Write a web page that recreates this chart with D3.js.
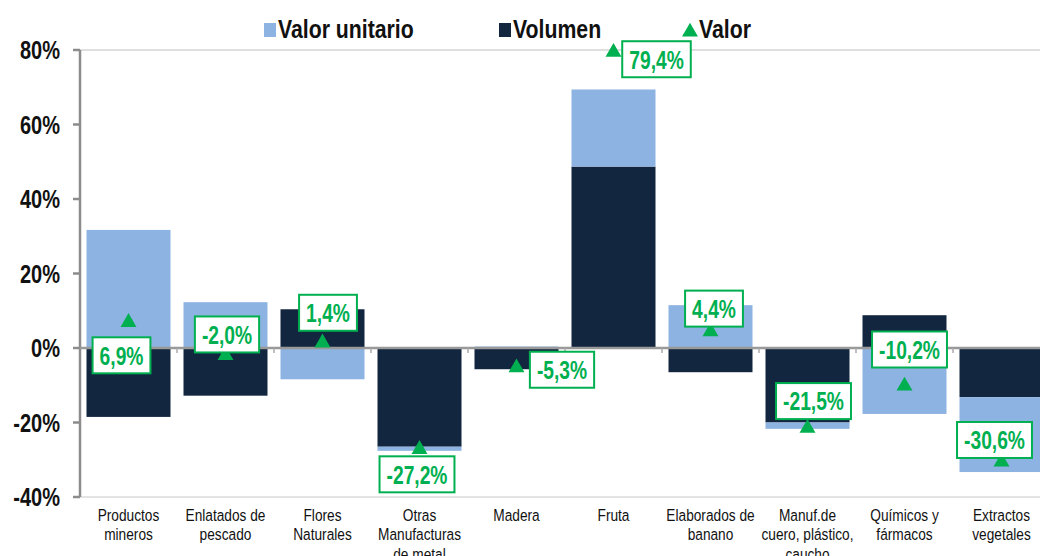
<!DOCTYPE html>
<html>
<head>
<meta charset="utf-8">
<script src="https://cdn.jsdelivr.net/npm/d3@7"></script>
<style>
  body { margin: 0; background: #fff; }
  svg { display: block; }
  text { font-family: "Liberation Sans", Arial, sans-serif; }
</style>
</head>
<body>
<svg id="chart" width="1040" height="556"></svg>
<script>
// categorias (con saltos de linea del eje)
var categorias = [
  "Productos\nmineros", "Enlatados de\npescado", "Flores\nNaturales",
  "Otras\nManufacturas\nde metal", "Madera", "Fruta", "Elaborados de\nbanano",
  "Manuf.de\ncuero, plástico,\ncaucho", "Químicos y\nfármacos", "Extractos\nvegetales"
];
// variaciones en %
var valorUnitario = [31.7, 12.3, -8.4, -1.1, 0.4, 20.7, 11.5, -1.7, -17.7, -20.1];
var volumen       = [-18.5, -12.8, 10.4, -26.5, -5.7, 48.7, -6.5, -20.0, 8.8, -13.2];
var valor         = [6.9, -2.0, 1.4, -27.2, -5.3, 79.4, 4.4, -21.5, -10.2, -30.6];
var valorTexto    = ["6,9%", "-2,0%", "1,4%", "-27,2%", "-5,3%", "79,4%", "4,4%", "-21,5%", "-10,2%", "-30,6%"];
var ticksY = [-40, -20, 0, 20, 40, 60, 80];

// donde va cada etiqueta respecto al triangulo
var etiquetaDx = [-7, 1.5, 5.5, -2.5, 45.5, 43, 3.5, 6, 5, -7];
var etiquetaDy = [33, -21, -30, 25, 2, 7, -23, -27, -36.5, -22];

var colorUnit = "#8DB3E2";
var colorVol = "#13263F";
var verde = "#00B050";

var svg = d3.select("#chart");

//la fuente del original es angosta, se aprieta en x
function angosto(px, py, sx){
    return "translate(" + px + "," + py + ") scale(" + sx + ",1)";
}

var x = d3.scaleBand()
    .domain(categorias)
    .range([80, 1050])
    .paddingInner(0.134)
    .paddingOuter(0.067);

var y = d3.scaleLinear()
    .domain([-40, 80])
    .range([497, 50]);

// tabla para el stack: volumen queda pegado al cero
var tabla = categorias.map(function(c, i){
    return {cat: c, volumen: volumen[i], unitario: valorUnitario[i]};
});
var series = d3.stack()
    .keys(["volumen", "unitario"])
    .offset(d3.stackOffsetDiverging)(tabla);

// lineas de borde del area
svg.append("line")
    .attr("x1", 80).attr("x2", 1040)
    .attr("y1", y(80)).attr("y2", y(80))
    .attr("stroke", "#BFBFBF").attr("stroke-width", 1);
svg.append("line")
    .attr("x1", 80).attr("x2", 1040)
    .attr("y1", y(-40)).attr("y2", y(-40))
    .attr("stroke", "#C8C8C8").attr("stroke-width", 1);

// barras
svg.append("g").selectAll("g")
    .data(series)
    .enter().append("g")
    .attr("fill", function(s){ return s.key == "volumen" ? colorVol : colorUnit; })
    .selectAll("rect")
    .data(function(s){ return s; })
    .enter().append("rect")
    .attr("x", function(d){ return x(d.data.cat); })
    .attr("width", x.bandwidth())
    .attr("y", function(d){ return y(Math.max(d[0], d[1])); })
    .attr("height", function(d){ return Math.abs(y(d[0]) - y(d[1])); });

// eje y
var ejeY = svg.append("g");
ejeY.append("line")
    .attr("x1", 80).attr("x2", 80)
    .attr("y1", y(80)).attr("y2", y(-40))
    .attr("stroke", "#8C8C8C").attr("stroke-width", 2.5);
ejeY.selectAll(".tk")
    .data(ticksY)
    .enter().append("line")
    .attr("x1", 73).attr("x2", 80)
    .attr("y1", function(d){ return y(d); })
    .attr("y2", function(d){ return y(d); })
    .attr("stroke", "#8C8C8C").attr("stroke-width", 2.5);
ejeY.selectAll("text")
    .data(ticksY)
    .enter().append("text")
    .attr("transform", function(d){ return angosto(60, y(d), 0.8); })
    .attr("dy", "0.36em")
    .attr("text-anchor", "end")
    .attr("font-size", 25)
    .attr("font-weight", "bold")
    .attr("fill", "#111")
    .text(function(d){ return d + "%"; });

// linea del cero con marcas
svg.append("line")
    .attr("x1", 80).attr("x2", 1040)
    .attr("y1", y(0)).attr("y2", y(0))
    .attr("stroke", "#999").attr("stroke-width", 2.5);
svg.append("g").selectAll("line")
    .data(categorias.slice(1))
    .enter().append("line")
    .attr("x1", function(d){ return x(d) - x.step() * x.paddingInner() / 2; })
    .attr("x2", function(d){ return x(d) - x.step() * x.paddingInner() / 2; })
    .attr("y1", y(0)).attr("y2", y(0) + 5)
    .attr("stroke", "#AAA").attr("stroke-width", 1.5);

// etiquetas categorias
var cats = svg.append("g").selectAll("text")
    .data(categorias)
    .enter().append("text")
    .attr("text-anchor", "middle")
    .attr("font-size", 16.5)
    .attr("fill", "#111")
    .attr("transform", function(d){ return angosto(x(d) + x.bandwidth() / 2, 521, 0.83); });
cats.selectAll("tspan")
    .data(function(d){ return d.split("\n"); })
    .enter().append("tspan")
    .attr("x", 0)
    .attr("y", function(d, i){ return i * 19.5; })
    .text(function(d){ return d; });

// triangulos del valor
var tri = d3.symbol().type(d3.symbolTriangle).size(110);
svg.append("g").selectAll("path")
    .data(valor)
    .enter().append("path")
    .attr("d", tri)
    .attr("fill", verde)
    .attr("transform", function(d, i){
        return "translate(" + (x(categorias[i]) + x.bandwidth() / 2) + "," + y(d) + ")";
    });

// cajas de etiqueta
var etq = svg.append("g").selectAll("g")
    .data(valor)
    .enter().append("g")
    .attr("transform", function(d, i){
        var cx = x(categorias[i]) + x.bandwidth() / 2 + etiquetaDx[i];
        var cy = y(d) + etiquetaDy[i];
        return "translate(" + cx + "," + cy + ")";
    });
etq.append("text")
    .attr("transform", "scale(0.74,1)")
    .attr("text-anchor", "middle")
    .attr("dy", "0.36em")
    .attr("font-size", 26)
    .attr("font-weight", "bold")
    .attr("fill", verde)
    .text(function(d, i){ return valorTexto[i]; });
etq.each(function(){
    var g = d3.select(this);
    var w = g.select("text").node().getComputedTextLength() * 0.74 + 14;
    g.insert("rect", "text")
        .attr("x", -w / 2).attr("y", -18)
        .attr("width", w).attr("height", 36)
        .attr("fill", "#fff")
        .attr("stroke", verde)
        .attr("stroke-width", 2);
});

// leyenda
var ley = svg.append("g");
ley.append("rect").attr("x", 264).attr("y", 23).attr("width", 12).attr("height", 14).attr("fill", colorUnit);
ley.append("rect").attr("x", 499).attr("y", 23).attr("width", 12).attr("height", 14).attr("fill", colorVol);
ley.append("path")
    .attr("d", d3.symbol().type(d3.symbolTriangle).size(110))
    .attr("fill", verde)
    .attr("transform", "translate(690,32)");
var leyTextos = [["Valor unitario", 278], ["Volumen", 513], ["Valor", 699]];
ley.selectAll("text")
    .data(leyTextos)
    .enter().append("text")
    .attr("transform", function(d){ return angosto(d[1], 38, 0.85); })
    .attr("font-size", 25)
    .attr("font-weight", "bold")
    .attr("fill", "#111")
    .text(function(d){ return d[0]; });
</script>
</body>
</html>
